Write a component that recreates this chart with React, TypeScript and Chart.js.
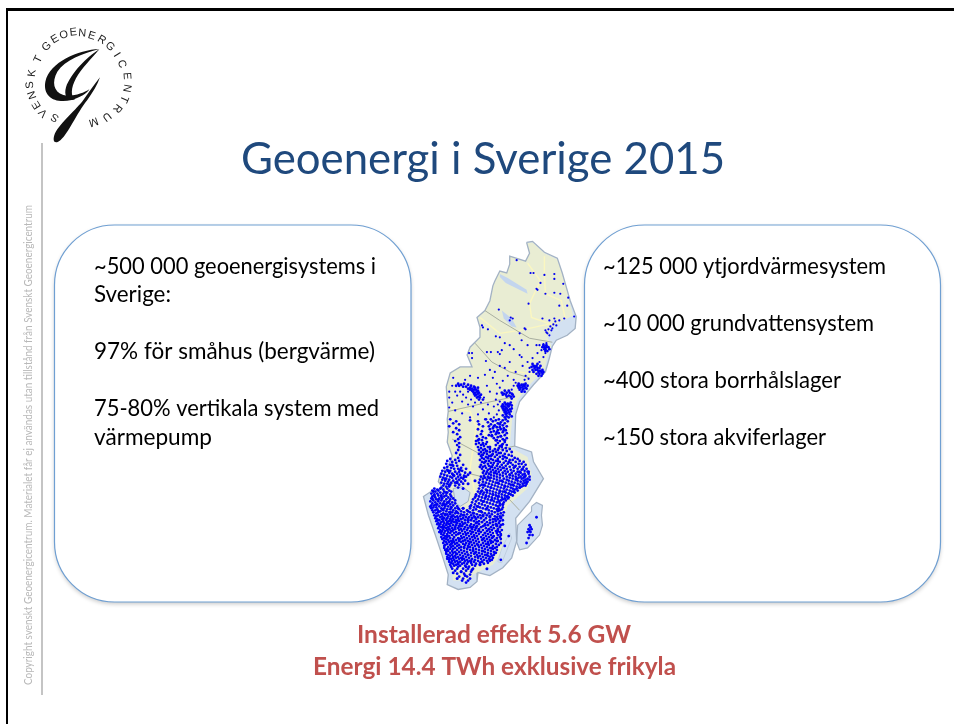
import React, { useEffect, useRef } from "react";
import { Chart, registerables } from "chart.js";

Chart.register(...registerables);

const titleText = "Geoenergi i Sverige 2015";
const copyrightText = "Copyright svenskt Geoenergicentrum. Materialet får ej användas utan tillstånd från Svenskt Geoenergicentrum";

// text, left x, baseline y, width
const leftBoxLines: [string, number, number, number][] = [
  ["~500 000 geoenergisystems i", 94, 274, 282],
  ["Sverige:", 94, 302, 77],
  ["97% för småhus (bergvärme)", 94, 359, 281],
  ["75-80% vertikala system med", 94, 416, 285],
  ["värmepump", 94, 445, 118],
];
const rightBoxLines: [string, number, number, number][] = [
  ["~125 000 ytjordvärmesystem", 603, 274, 283],
  ["~10 000 grundvattensystem", 603, 331, 271],
  ["~400 stora borrhålslager", 603, 388, 238],
  ["~150 stora akviferlager", 603, 445, 223],
];
const footerLines: [string, number, number, number][] = [
  ["Installerad effekt 5.6 GW", 357, 643, 274],
  ["Energi 14.4 TWh exklusive frikyla", 313, 675, 363],
];

const logoCentre = [235, 238];
const logoLetters: [string, number, number][] = [
  ["S", 165, 352], ["V", 130, 338], ["E", 110, 315], ["N", 97, 285], ["S", 90, 255], ["K", 97, 220], ["T", 115, 178],
  ["G", 140, 140], ["E", 165, 118], ["O", 192, 105], ["E", 220, 97], ["N", 247, 100], ["E", 275, 108], ["R", 305, 120],
  ["G", 330, 140], ["I", 350, 165], ["C", 365, 192], ["E", 380, 228], ["N", 380, 265], ["T", 372, 297], ["R", 352, 325],
  ["U", 320, 350], ["M", 280, 365],
];

const seaOutline = [
  [527,241],[533,240],[545,251],[558,257],[563,272],[567,286],[571,300],[577,316],[576,328],[568,335],[557,340],[553,346],[550,358],[546,372],[534,385],[520,402],[516,415],
  [515,447],[532,453],[534,463],[544,480],[530,503],[516,520],[517,543],[512,560],[503,570],[490,578],[478,575],[477,584],[470,590],[458,592],[447,587],[448,577],[442,558],[435,537],[428,517],[423,498],[432,492],[443,490],
  [438,483],[440,475],[448,467],[452,457],[447,443],[448,433],[447,420],[448,412],[446,387],[450,373],[460,367],[472,367],[467,355],[470,347],[480,337],[480,327],[477,317],[485,310],[490,300],[493,285],[495,280],[500,270],[507,272],[510,263],[510,255],[526,260],[530,252],[527,241],
];
const landOutline = [
  [527,242],[533,241],[545,252],[558,258],[563,273],[567,287],[570,300],[574,315],[566,319],[563,320],[553,327],[548,337],[552,345],[548,357],[545,370],[532,383],[518,400],[513,413],[510,448],
  [517,452],[528,458],[532,476],[528,490],[508,507],[503,520],[503,547],[498,560],[493,567],[473,577],[470,583],[453,583],[451,570],[448,562],[445,550],[440,527],[435,507],[430,494],[443,492],
  [438,483],[440,475],[448,467],[452,457],[447,443],[448,433],[447,420],[448,412],[446,387],[450,373],[460,367],[472,367],[467,355],[470,347],[480,337],[480,327],[477,317],[485,310],[490,300],[493,285],[495,280],[500,270],[507,272],[510,263],[510,255],[526,260],[530,252],[527,242],
];
const gotlandOutline = [[532,508],[537,504],[543,507],[542,517],[543,527],[540,537],[528,550],[520,552],[517,544],[518,527],[532,513],[532,508]];
const olandOutline = [[510,535],[512,540],[506,555],[502,565],[498,564],[502,550],[510,535]];
const lakeOne = [[500,273],[508,277],[527,289],[528,293],[506,282],[500,276],[500,273]];
const lakeTwo = [[502,310],[512,318],[517,327],[512,326],[504,318],[502,310]];
const lakeVanern = [[453,490],[462,488],[470,494],[468,503],[460,508],[455,504],[453,490]];
const roadLines = [
  [[545,255],[545,275],[546,293],[562,300],[566,318]],
  [[528,262],[541,280],[537,288],[530,303],[532,317],[552,324]],
  [[480,317],[500,333],[520,330],[553,323]],
  [[510,370],[525,373],[540,374]],
  [[450,408],[470,412],[475,425],[490,440],[505,445]],
  [[476,428],[470,470],[480,520],[470,570]],
];
const borderLines = [
  [[485,310],[500,320],[530,338],[553,342]],
  [[475,343],[492,362],[510,372],[530,378]],
  [[448,412],[487,403],[515,397]],
  [[452,440],[480,455],[515,447]],
  [[443,490],[470,475],[490,480],[520,512]],
];

// sparse dots, x and y
const dotsNorth = [
  [517,259],[531,272],[534,272],[545,274],[555,273],[555,278],[564,283],[541,282],[537,288],[538,289],[546,293],[555,292],[561,293],[569,297],[529,303],[560,305],[568,305],
  [499,309],[511,317],[513,318],[510,320],[525,328],[526,329],[482,325],[483,327],[488,329],[496,336],[500,337],[505,343],[510,345],[520,333],[522,340],[528,345],[537,345],[540,345],
  [543,318],[550,320],[555,318],[565,318],[575,316],[560,320],[557,325],[553,328],[552,330],[548,333],[547,332],[550,335],[546,330],[549,329],[556,321],[554,324],[551,326],
  [472,353],[469,353],[472,358],[487,352],[491,352],[498,352],[502,350],[500,354],[520,355],[522,357],[514,349],[486,361],[490,370],[495,372],[500,366],[505,368],[510,362],[516,372],[523,366],[528,362],[533,358],[538,353],
  [493,378],[485,375],[497,384],[503,381],[508,376],[514,380],[526,376],[530,368],[487,386],[490,392],[497,394],[484,398],[488,405],[494,407],[500,402],[478,378],[470,376],[465,380],[453,378],[452,386],[449,392],
  [449,398],[452,403],[457,396],[462,402],[468,405],[475,403],[483,410],[489,414],[494,418],[449,408],[455,411],[462,414],[470,418],[478,415],[496,400],[500,388],[485,420],[540,362],[544,357],
  [544,344],[547,343],[546,353],[542,350],[535,366],[530,372],[529,379],[525,380],[516,383],[514,386],[512,390],[498,405],[499,411],[497,415],[455,392],[460,392],[463,395],[466,398],[468,392],[471,400],[473,407],[481,403],
];

// each row: y, then the x of every dot on that row
const dotRows = [
  [345,544,547],[347,543,545,547,549],[349,545,546,550],[351,546,548],
  [364,533,538],[366,534,537,541],[367,532,536],[368,535,538,540],[370,533,536,538,543],[371,540,541],[372,534,539,542,544],[374,537,540,543],[376,539,542],
  [384,519,526],[385,522,524],[386,518,520,525,528],[387,523],[388,519,521,526],[389,524,527],[390,520,523],[392,522,525],
  [391,505,509],[393,502,507,510],[394,504,512],[395,503,506,513],[396,509],[397,507,511,514],[399,512],
  [403,505,511],[404,508],[405,503,506,510],[406,508,512],[407,502,504,509],[408,506],[409,503,507,512],[410,505,510],[411,504,508],[412,506,511],[413,505,509],[414,507],[415,506,510],[416,503],[417,507,512],[418,505,509],
  [384,458,464],[385,461,468],[386,456,459,471],[387,463,466,474],[388,470,475,478],[389,472,468],[390,470,474,476],[391,478,472],[392,473,477],[393,475,479],[394,474,478],[395,476,481],[396,475,480],[397,478],[398,477,480],[400,479,483],
  [420,450,486,491,499,506],[421,470,496,503],[422,456,478,493,508],[423,488,501],[424,453,498,505],[425,459,479,491],[426,495,503],[427,449,483,489,507],[428,497,500],[429,456,493,504],[430,478,490,501],[431,459,498,506],[432,482,494],[433,453,491,503],[434,499,507],[435,457,481,496],[436,489,505],[437,477,492,501],[438,460,483,498],[439,486,494,507],[440,458,479,503],[441,482,497],[442,455,476,500],[443,487,505],[444,459,479,483,498],[445,476,486,503],[446,457,481,496,507],[447,484,500],[448,459,478,488,502],[449,481,506,499],
  [450,485,490,495,510],[451,458,479,483,498,503],[452,487,493,507],[453,481,490,496,512],[454,456,484,501],[455,479,487,493,505],[456,460,483,497,509],[457,481,489,491,503,512],[458,486,495,500],[459,458,482,488,507,515],
  [460,450,484,491,498,503,518],[461,455,480,493,510,513],[462,447,459,486,489,496,506,520],[463,452,482,500,516,524],[464,456,484,491,494,504,511],[465,446,488,498,508,519,522],[466,450,463,481,493,502,513,526],[467,453,457,485,489,497,506,516],[468,447,483,491,500,510,520,524],[469,444,451,461,486,495,504,514],
  [470,454,458,466,482,490,498,507,518,527],[471,447,488,493,501,511,522],[472,442,450,462,484,496,505,514,525],[473,445,455,459,487,491,499,508,518,528],[474,449,465,470,483,494,503,512,521],[475,441,452,457,486,489,497,506,516,525,529],[476,444,460,468,491,500,510,519,523],[477,447,454,464,484,494,503,513,526],[478,440,450,458,466,481,488,497,507,516,521,530],[479,443,452,461,485,491,500,510,519,524],
  [480,446,456,463,483,494,504,513,522,528],[481,442,449,459,480,487,497,507,516,526,530],[482,445,453,465,490,500,509,518,524],[483,448,457,461,483,493,503,512,521,528],[484,441,451,455,479,486,496,506,515,525],[485,444,447,463,489,499,509,518,523,527],[486,450,459,482,492,502,511,520],[487,443,455,480,485,495,505,514,524,526],[488,446,449,488,498,508,517,522],[489,441,458,483,491,501,511,520],
  [490,434,440,447,479,494,504,513,517],[491,437,443,486,497,507,515],[492,432,438,449,482,490,500,510,518],[493,435,444,451,478,493,503,512],[494,440,447,484,487,496,506,515],[495,431,437,443,480,490,499,509],[496,434,450,476,483,493,502,511],[497,438,441,446,486,496,505,513],[498,432,444,451,479,489,499,508],[499,435,448,475,482,492,502,509],
  [500,431,439,442,453,485,495,505,508],[501,436,446,450,473,478,488,498,503],[502,433,441,455,481,491,501,506],[503,430,438,444,449,476,484,494,499],[504,435,447,452,472,487,497,504],[505,432,440,443,455,479,490,500],[506,437,446,450,475,482,493,503],[507,431,434,442,453,471,485,496,500],[508,439,445,448,457,477,488,498],[509,433,436,451,474,480,491,503],
  [510,431,441,444,455,463,470,483,494,499],[511,437,447,450,459,476,486,497,502],[512,432,435,443,453,467,473,489,500],[513,440,446,456,461,479,492,498],[514,433,438,449,452,464,470,482,495,504],[515,436,443,455,458,474,485,489,501],[516,441,447,450,461,467,477,492,498],[517,434,438,445,453,464,471,480,487,503],[518,436,442,448,457,460,474,483,495,500],[519,440,451,455,466,469,478,490,497],
  [520,435,444,447,458,463,472,481,486,501],[521,437,442,450,453,461,468,476,493,498],[522,439,446,456,465,471,484,490,503],[523,436,443,449,452,459,474,479,496,500],[524,441,447,454,462,468,482,487,493],[525,438,444,451,457,465,476,490,499],[526,437,440,449,460,463,471,479,485,496],[527,443,446,453,456,467,474,488,493,501],[528,439,450,459,462,470,477,483,497],[529,441,444,448,455,465,473,481,491,500],
  [530,438,446,452,458,468,476,486,494],[531,443,449,455,461,464,472,479,489,498],[532,440,447,453,459,467,475,483,492,502],[533,442,445,451,462,470,478,487,496],[534,439,448,456,465,473,481,490,500],[535,444,450,454,460,468,476,485,493,497],[536,441,447,458,463,471,479,488,501],[537,443,452,456,466,474,483,491,498],[538,445,449,461,469,477,486,494],[539,441,447,454,464,472,481,489,500],
  [540,444,450,458,462,467,475,484,492,497],[541,442,446,453,460,470,478,487,501],[542,448,456,465,473,482,490,495],[543,444,451,459,463,468,476,485,498],[544,446,449,454,461,471,479,488,493],[545,443,452,457,466,474,483,491,501],[546,447,455,463,469,477,486,496],[547,445,450,459,465,472,481,489,499],[548,444,453,457,468,475,484,493],[549,448,451,461,470,479,487,497],
  [550,444,455,459,464,473,482,490,495],[551,447,450,453,467,476,485,493],[552,445,457,461,470,479,488,497],[553,448,452,464,473,482,491],[554,446,455,459,467,476,485,494],[555,450,453,462,471,479,488,496],[556,446,457,465,474,482,491],[557,448,452,460,468,477,485,494],[558,450,455,463,471,480,488,492],[559,447,453,458,466,475,483,490],
  [560,449,456,461,469,478,486,493],[561,447,451,459,464,472,481,489],[562,449,454,462,467,475,484,492],[563,452,457,465,470,478,487,490],[564,449,455,460,468,474,482],[565,451,458,464,471,480,488],[566,453,462,467,476,484],[567,450,456,472,480],[568,454,460,465,475],[569,451,458,469],
  [571,452,457,463,468,473],[573,455,466],[574,461,471],[576,457,464],[577,470],[579,459,467],[581,463,470],[583,462,468],[585,466],
  [527,530],[531,529,532],[534,528,531],[537,530,533],[545,527],[519,537],[538,509],[548,505],[562,501],[529,531],[533,530],[540,529],
];

// second pass over the dense south, read as loose knots
const dotsKnots = [
  [487,492],[505,493],[476,497],[498,498],[509,495],[492,501],[483,503],[503,506],[478,508],[487,510],[498,512],[473,515],[481,513],[490,518],[501,519],[468,522],[477,524],[485,527],[495,521],[503,526],
  [471,529],[479,533],[489,531],[498,533],[466,536],[474,538],[483,541],[493,539],[501,537],[470,544],[478,547],[488,546],[497,543],[464,549],[473,552],[483,553],[492,550],[468,557],[478,559],[487,557],[495,555],
  [462,560],[471,563],[482,564],[490,562],[458,566],[466,569],[456,556],[451,546],[459,541],[452,533],[460,528],[450,522],[445,516],[457,514],[442,511],[436,506],[448,504],[441,498],[434,497],[446,494],
  [449,486],[445,480],[453,476],[460,471],[448,472],[457,484],[464,478],[452,466],[485,463],[492,468],[498,462],[503,469],[509,463],[515,468],[520,473],[525,478],[517,480],[510,476],[502,482],[495,474],[489,479],
  [484,486],[491,489],[498,484],[505,488],[513,486],[520,489],[527,483],[523,470],[529,473],[514,493],[507,498],[500,493],[493,496],[486,498],[481,493],[480,468],[486,452],[492,456],[499,454],[505,458],[490,448],
  [483,445],[478,441],[494,427],[500,425],[504,431],[497,433],[501,437],[505,441],[492,436],[496,441],[502,446],[488,459],[482,456],[475,482],[468,485],[463,490],[470,508],[468,513],[463,517],[458,522],[452,518],
  [447,525],[443,520],[441,534],[447,538],[453,543],[459,535],[465,542],[472,534],[476,529],[468,549],[475,555],[485,535],[491,543],[497,527],[483,517],[475,519],[463,510],[458,510],[451,509],[444,506],[438,513],
  [437,522],[442,529],[449,531],[456,524],[453,560],[447,552],[444,540],[450,514],[438,501],[433,493],[432,500],[430,508],[487,571],[480,567],[472,572],[461,574],[453,575],[457,581],[465,578],
];

function App() {
  const ref = useRef<HTMLCanvasElement | null>(null);
  useEffect(() => {
    const toPts = (a: number[][]) => a.map(([x, y]) => ({ x, y }));
    const poly = (pts: number[][], fill: string, stroke: string, borderWidth = 1) => ({
      data: toPts(pts), showLine: true, pointRadius: 0, borderColor: stroke, borderWidth, polyFill: fill, tension: 0, soft: true,
    });
    const line = (pts: number[][], stroke: string, borderWidth: number) => ({
      data: toPts(pts), showLine: true, pointRadius: 0, borderColor: stroke, borderWidth, tension: 0, soft: true,
    });
    const rowPts: number[][] = [];
    dotRows.forEach(([y, ...xs]) => xs.forEach((x) => rowPts.push([x, y])));
    const datasets: any[] = [
      poly(seaOutline, "#d3e1f1", "rgba(0,0,0,0)", 0),
      poly(gotlandOutline, "#d3e1f1", "#a3b2c4", 1.2),
      poly(olandOutline, "#d3e1f1", "#c0cfe0", 1),
      poly(landOutline, "#e9edd3", "rgba(0,0,0,0)", 0),
      poly(lakeOne, "#c3d5ee", "rgba(0,0,0,0)", 0),
      poly(lakeTwo, "#c3d5ee", "rgba(0,0,0,0)", 0),
      poly(lakeVanern, "#d3e1f1", "#a3b2c4", 1),
      line(seaOutline, "#a3b2c4", 1.3),
      ...roadLines.map((r) => line(r, "#fbf7c0", 1.4)),
      ...borderLines.map((r) => line(r, "#a8aea0", 1)),
      { data: toPts(dotsNorth), pointRadius: 1.1, pointBackgroundColor: "#0000f0", pointBorderWidth: 0, showLine: false, soft: true },
      { data: toPts(rowPts), pointRadius: 1.4, pointBackgroundColor: "#0000f4", pointBorderWidth: 0, showLine: false, soft: true },
      { data: toPts(dotsKnots), pointRadius: 1.5, pointBackgroundColor: "#0000f4", pointBorderWidth: 0, showLine: false, soft: true },
    ];
    datasets.forEach((d, i) => { d.order = datasets.length - i; });

    const slide = {
      id: "slide",
      beforeDatasetsDraw(chart: any) {
        const c = chart.ctx;
        c.save();
        c.fillStyle = "#000";
        c.fillRect(6, 8, 948, 3);
        c.fillRect(6, 8, 2, 716);
        c.fillStyle = "#c4c4c4";
        c.fillRect(41, 143, 2, 552);
        [[54.5, 225, 356.5, 377], [584.5, 225, 356, 377]].forEach(([x, y, w, h]) => {
          c.save();
          c.shadowColor = "rgba(0,0,0,0.22)";
          c.shadowBlur = 4;
          c.shadowOffsetY = 2;
          c.fillStyle = "#fff";
          c.beginPath();
          c.roundRect(x, y, w, h, 60);
          c.fill();
          c.restore();
          c.strokeStyle = "#6f9fd2";
          c.lineWidth = 1.2;
          c.beginPath();
          c.roundRect(x, y, w, h, 60);
          c.stroke();
        });
        c.restore();
      },
      beforeDatasetDraw(chart: any, args: any) {
        const ds = chart.data.datasets[args.index];
        const c = chart.ctx;
        c.save();
        if (ds.soft) c.filter = "blur(0.4px)";
        if (ds.polyFill) {
          c.fillStyle = ds.polyFill;
          c.beginPath();
          args.meta.data.forEach((p: any, i: number) => (i ? c.lineTo(p.x, p.y) : c.moveTo(p.x, p.y)));
          c.closePath();
          c.fill();
        }
      },
      afterDatasetDraw(chart: any) {
        chart.ctx.restore();
      },
      afterDatasetsDraw(chart: any) {
        const c = chart.ctx;
        c.save();
        c.textBaseline = "alphabetic";
        c.textAlign = "left";
        c.fillStyle = "#1f497d";
        c.font = "44px Lato";
        c.fillText(titleText, 241, 174, 484);
        c.fillStyle = "#000";
        c.font = "24px Lato";
        [...leftBoxLines, ...rightBoxLines].forEach(([t, x, y, w]) => c.fillText(t, x, y, w));
        c.fillStyle = "#c0504d";
        c.font = "bold 24.6px Lato";
        footerLines.forEach(([t, x, y, w]) => c.fillText(t, x, y, w));
        c.save();
        c.translate(32, 685);
        c.rotate(-Math.PI / 2);
        c.fillStyle = "#b8b8b8";
        c.font = "11px Lato";
        c.fillText(copyrightText, 0, 0, 480);
        c.restore();

        // logo
        c.fillStyle = "#1a1a1a";
        c.font = "11px 'Liberation Sans'";
        c.textAlign = "center";
        c.textBaseline = "middle";
        logoLetters.forEach(([t, zx, zy]) => {
          const a = Math.atan2(zy - logoCentre[1], zx - logoCentre[0]) + Math.PI / 2;
          c.save();
          c.translate(zx / 3, zy / 3);
          c.rotate(a);
          c.fillText(t, 0, 0);
          c.restore();
        });
        c.save();
        c.scale(1 / 3, 1 / 3);
        c.fillStyle = "#111";
        [
          "M298 147 C235 150 150 185 136 245 C128 290 165 312 215 300 C240 293 262 280 268 268 C250 280 215 292 190 285 C160 275 155 245 172 215 C195 180 250 160 298 147 Z",
          "M298 148 C262 170 212 220 198 262 C190 290 205 305 225 298 C212 290 212 265 228 235 C245 205 275 175 298 148 Z",
          "M300 232 C285 250 268 275 250 300 C232 325 180 370 165 400 C155 425 165 435 182 420 C205 400 230 340 262 300 C278 278 292 255 300 232 Z",
        ].forEach((d) => c.fill(new Path2D(d)));
        c.restore();
        c.restore();
      },
    };

    const chart = new Chart(ref.current as HTMLCanvasElement, {
      type: "scatter",
      data: { datasets },
      options: {
        animation: false,
        responsive: false,
        layout: { padding: 0 },
        plugins: { legend: { display: false }, tooltip: { enabled: false }, title: { display: false } },
        scales: {
          x: { type: "linear", min: 0, max: 954, display: false },
          y: { type: "linear", min: 0, max: 724, reverse: true, display: false },
        },
      },
      plugins: [slide],
    } as any);
    return () => chart.destroy();
  }, []);
  return (
    <div style={{ position: "absolute", left: 0, top: 0, width: 954, height: 724, background: "#fff" }}>
      <canvas ref={ref} width={954} height={724} style={{ display: "block" }} />
    </div>
  );
}

export default App;
